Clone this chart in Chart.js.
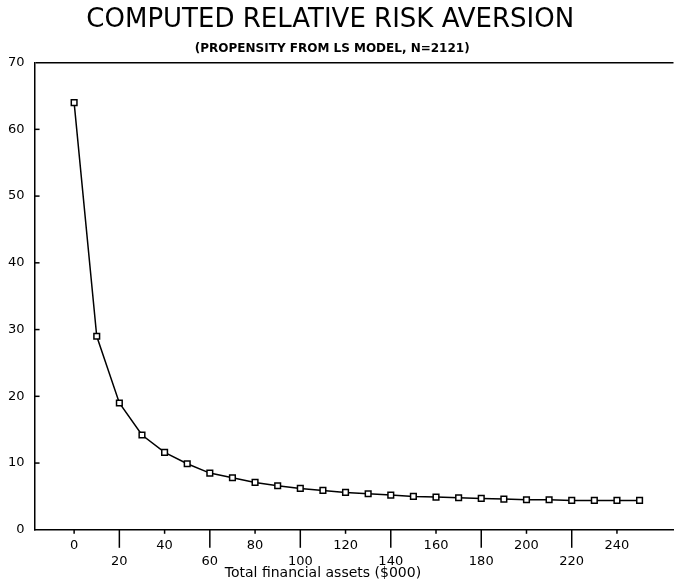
<!DOCTYPE html>
<html>
<head>
<meta charset="utf-8">
<script src="https://cdn.jsdelivr.net/npm/chart.js@4/dist/chart.umd.min.js"></script>
<style>
  html, body { margin: 0; padding: 0; background: #fff; }
  #wrap { width: 679px; height: 587px; }
</style>
</head>
<body>
<div id="wrap"><canvas id="c" width="679" height="587"></canvas></div>
<script>
// Total financial assets, thousands of dollars
const assets = [0, 10, 20, 30, 40, 50, 60, 70, 80, 90, 100, 110, 120, 130,
                140, 150, 160, 170, 180, 190, 200, 210, 220, 230, 240, 250];
// Computed relative risk aversion at each asset level
const rra = [64, 29, 19, 14.2, 11.6, 9.9, 8.5, 7.8, 7.1, 6.6, 6.2, 5.9, 5.6, 5.4,
             5.2, 5.0, 4.9, 4.8, 4.7, 4.6, 4.5, 4.5, 4.4, 4.4, 4.4, 4.4];
// Axis tick values
const xTicks = [0, 20, 40, 60, 80, 100, 120, 140, 160, 180, 200, 220, 240];
const yTicks = [0, 10, 20, 30, 40, 50, 60, 70];

const titleText = 'COMPUTED RELATIVE RISK AVERSION';
const subtitleText = '(PROPENSITY FROM LS MODEL, N=2121)';
const xTitle = 'Total financial assets ($000)';

const points = assets.map((a, i) => ({ x: a, y: rra[i] }));

// Short inward ticks on the y axis, drop ticks under the x axis,
// and the x-axis caption set beneath the lower row of labels.
const axisDecor = {
  id: 'axisDecor',
  afterDraw(chart) {
    const { ctx, scales: { x, y }, chartArea } = chart;
    ctx.save();
    ctx.strokeStyle = '#000';
    ctx.lineWidth = 1.5;
    yTicks.forEach(v => {
      if (v === 0 || v === 70) return;
      const py = y.getPixelForValue(v);
      ctx.beginPath();
      ctx.moveTo(chartArea.left, py);
      ctx.lineTo(chartArea.left + 5, py);
      ctx.stroke();
    });
    xTicks.forEach((v, i) => {
      const px = x.getPixelForValue(v);
      const len = (i % 2 === 1) ? 18 : 4;
      ctx.beginPath();
      ctx.moveTo(px, chartArea.bottom);
      ctx.lineTo(px, chartArea.bottom + len);
      ctx.stroke();
    });
    ctx.fillStyle = '#000';
    ctx.font = '14px "DejaVu Sans"';
    ctx.textAlign = 'center';
    ctx.textBaseline = 'middle';
    ctx.fillText(xTitle, x.getPixelForValue(110), chartArea.bottom + 44);
    ctx.restore();
  }
};

new Chart(document.getElementById('c'), {
  type: 'line',
  data: {
    datasets: [{
      data: points,
      borderColor: '#000',
      borderWidth: 1.5,
      backgroundColor: '#fff',
      pointStyle: 'rect',
      pointRadius: 4,
      pointBorderWidth: 1.5,
      pointBorderColor: '#000',
      pointBackgroundColor: '#fff',
      tension: 0
    }]
  },
  options: {
    responsive: false,
    animation: false,
    layout: { padding: { left: -2, right: 0, top: 0, bottom: 10 } },
    plugins: {
      legend: { display: false },
      tooltip: { enabled: false },
      title: {
        display: true,
        text: titleText + '  ',
        color: '#000',
        font: { family: 'DejaVu Sans', size: 26, weight: 'normal' },
        padding: { top: 5, bottom: 0 }
      },
      subtitle: {
        display: true,
        text: subtitleText + '   ',
        color: '#000',
        font: { family: 'DejaVu Sans', size: 12, weight: 'bold' },
        padding: { top: 5, bottom: 7 }
      }
    },
    scales: {
      x: {
        type: 'linear',
        min: -17.5,
        max: 265,
        afterBuildTicks(scale) {
          scale.ticks = xTicks.map(v => ({ value: v }));
        },
        ticks: {
          color: '#000',
          font: { family: 'DejaVu Sans', size: 13, weight: 'normal' },
          maxRotation: 0,
          autoSkip: false,
          padding: 8,
          callback(value) {
            const i = xTicks.indexOf(value);
            return (i % 2 === 1) ? ['', String(value)] : String(value);
          }
        },
        grid: { display: true, drawOnChartArea: false, drawTicks: false },
        border: { display: true, color: '#000', width: 1.5 }
      },
      y: {
        type: 'linear',
        min: 0,
        max: 70,
        afterBuildTicks(scale) {
          scale.ticks = yTicks.map(v => ({ value: v }));
        },
        ticks: {
          color: '#000',
          font: { family: 'DejaVu Sans', size: 13, weight: 'normal' },
          padding: 10
        },
        grid: {
          drawTicks: false,
          color: ctx => (ctx.tick && ctx.tick.value === 70) ? '#000' : 'rgba(0,0,0,0)',
          lineWidth: 1.5
        },
        border: { display: true, color: '#000', width: 1.5 }
      }
    }
  },
  plugins: [axisDecor]
});
</script>
</body>
</html>
